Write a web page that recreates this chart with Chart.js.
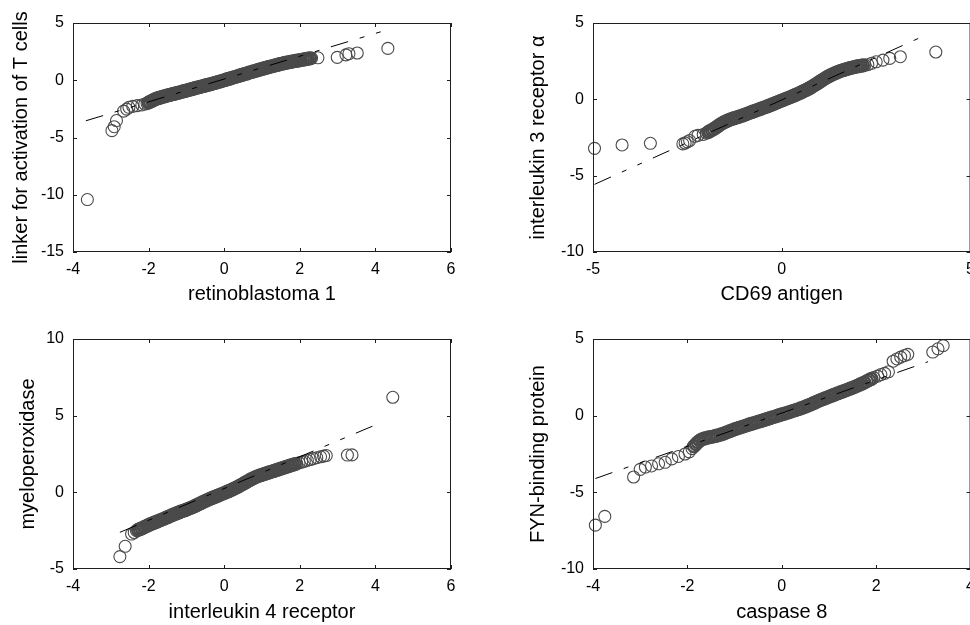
<!DOCTYPE html>
<html>
<head>
<meta charset="utf-8">
<script src="https://cdn.jsdelivr.net/npm/chart.js@4.4.0/dist/chart.umd.min.js"></script>
<style>
  html, body { margin: 0; padding: 0; background: #fff; overflow: hidden; }
  #page { position: relative; width: 970px; height: 625px; overflow: hidden; background: #fff; }
  #page canvas { position: absolute; }
</style>
</head>
<body>
<div id="page">
  <canvas id="c1" width="485" height="312" style="left:0px;top:0px"></canvas>
  <canvas id="c2" width="500" height="312" style="left:485px;top:0px"></canvas>
  <canvas id="c3" width="485" height="313" style="left:0px;top:312px"></canvas>
  <canvas id="c4" width="500" height="313" style="left:485px;top:312px"></canvas>
</div>
<script>
// panel 1: retinoblastoma 1 vs linker for activation of T cells
let rbX = [-3.62, -2.97, -2.91, -2.85, -2.66, -2.58, -2.52, -2.42, -2.3, -2.18, -2.1,
  -2.04, -2.0, -1.96, -1.91, -1.87, -1.83, -1.79, -1.74, -1.7, -1.65, -1.61, -1.56, -1.51, -1.47, -1.42,
  -1.37, -1.33, -1.28, -1.23, -1.19, -1.14, -1.09, -1.05, -1.0, -0.95, -0.91, -0.86, -0.81, -0.77, -0.72,
  -0.67, -0.63, -0.58, -0.53, -0.49, -0.44, -0.39, -0.35, -0.3, -0.25, -0.21, -0.16, -0.11, -0.07, -0.02,
  0.03, 0.07, 0.12, 0.17, 0.21, 0.26, 0.31, 0.35, 0.4, 0.45, 0.49, 0.54, 0.59, 0.63, 0.68, 0.73, 0.77,
  0.82, 0.87, 0.91, 0.96, 1.01, 1.05, 1.1, 1.15, 1.19, 1.24, 1.29, 1.33, 1.38, 1.43, 1.47, 1.52, 1.57,
  1.61, 1.66, 1.71, 1.75, 1.8, 1.85, 1.89, 1.94, 1.99, 2.03, 2.08, 2.13, 2.17, 2.22, 2.27, 2.31,
  2.48, 2.99, 3.22, 3.3, 3.52, 4.33];
let linkY = [-10.42, -4.4, -4.06, -3.52, -2.7, -2.52, -2.36, -2.28, -2.22, -2.16, -2.08,
  -2.02, -1.95, -1.88, -1.8, -1.73, -1.66, -1.61, -1.56, -1.52, -1.47, -1.43, -1.39, -1.34, -1.3, -1.27,
  -1.22, -1.19, -1.15, -1.11, -1.07, -1.03, -0.98, -0.95, -0.9, -0.86, -0.82, -0.78, -0.73, -0.69, -0.65,
  -0.61, -0.57, -0.53, -0.49, -0.45, -0.41, -0.37, -0.33, -0.29, -0.24, -0.2, -0.16, -0.11, -0.07, -0.02,
  0.03, 0.07, 0.12, 0.16, 0.21, 0.26, 0.3, 0.35, 0.4, 0.44, 0.49, 0.54, 0.58, 0.63, 0.68, 0.72, 0.77,
  0.81, 0.86, 0.9, 0.95, 0.99, 1.03, 1.08, 1.12, 1.16, 1.2, 1.24, 1.28, 1.32, 1.36, 1.4, 1.44, 1.47,
  1.51, 1.54, 1.57, 1.6, 1.63, 1.66, 1.69, 1.71, 1.74, 1.77, 1.8, 1.83, 1.85, 1.88, 1.91, 1.93,
  1.96, 2.0, 2.22, 2.32, 2.38, 2.78];
let rbLineX = [-3.66, 4.3];
let rbLineY = [-3.54, 4.39];

// panel 2: CD69 antigen vs interleukin 3 receptor alpha
let cdX = [-4.96, -4.23, -3.48, -2.62, -2.56, -2.5, -2.44, -2.3, -2.22, -2.08, -2.0,
  -1.95, -1.9, -1.85, -1.8, -1.75, -1.7, -1.65, -1.6, -1.55, -1.5, -1.45, -1.4, -1.35, -1.3, -1.25,
  -1.2, -1.15, -1.1, -1.05, -1.0, -0.95, -0.9, -0.85, -0.8, -0.75, -0.7, -0.65, -0.6, -0.55, -0.5,
  -0.45, -0.4, -0.35, -0.3, -0.25, -0.2, -0.15, -0.1, -0.05, 0.0, 0.05, 0.1, 0.15, 0.2, 0.25, 0.3,
  0.35, 0.4, 0.45, 0.5, 0.55, 0.6, 0.65, 0.7, 0.75, 0.8, 0.85, 0.9, 0.95, 1.0, 1.05, 1.1, 1.15, 1.2,
  1.25, 1.3, 1.35, 1.4, 1.45, 1.5, 1.55, 1.6, 1.65, 1.7, 1.75, 1.8, 1.85, 1.9, 1.95, 2.0, 2.05, 2.1,
  2.15, 2.2, 2.28, 2.38, 2.5, 2.68, 2.86, 3.14, 4.08];
let il3Y = [-3.21, -2.99, -2.88, -2.92, -2.86, -2.78, -2.7, -2.42, -2.36, -2.3, -2.22,
  -2.15, -2.08, -2.01, -1.94, -1.86, -1.77, -1.68, -1.6, -1.53, -1.47, -1.41, -1.36, -1.31, -1.27, -1.23,
  -1.19, -1.15, -1.11, -1.07, -1.03, -0.98, -0.93, -0.88, -0.84, -0.79, -0.75, -0.7, -0.66, -0.61, -0.57,
  -0.52, -0.48, -0.43, -0.38, -0.33, -0.28, -0.23, -0.18, -0.13, -0.08, -0.03, 0.02, 0.07, 0.12, 0.17, 0.22,
  0.27, 0.33, 0.38, 0.44, 0.5, 0.56, 0.62, 0.68, 0.75, 0.82, 0.9, 0.98, 1.06, 1.14, 1.22, 1.3, 1.38, 1.45,
  1.52, 1.58, 1.64, 1.7, 1.75, 1.8, 1.85, 1.89, 1.93, 1.97, 2.0, 2.04, 2.07, 2.1, 2.13, 2.16, 2.18, 2.2,
  2.22, 2.24, 2.27, 2.36, 2.46, 2.57, 2.68, 2.79, 3.1];
let cdLineX = [-4.96, 3.85];
let cdLineY = [-5.57, 4.25];

// panel 3: interleukin 4 receptor vs myeloperoxidase
let il4X = [-2.76, -2.62, -2.45, -2.38, -2.32,
  -2.28, -2.23, -2.18, -2.13, -2.08, -2.03, -1.98, -1.93, -1.88, -1.83, -1.78, -1.73, -1.68, -1.63, -1.58,
  -1.53, -1.48, -1.43, -1.38, -1.33, -1.28, -1.23, -1.18, -1.13, -1.08, -1.03, -0.98, -0.93, -0.88, -0.83,
  -0.78, -0.73, -0.68, -0.63, -0.58, -0.53, -0.48, -0.43, -0.38, -0.33, -0.28, -0.23, -0.18, -0.13, -0.08,
  -0.03, 0.02, 0.07, 0.12, 0.17, 0.22, 0.27, 0.32, 0.37, 0.42, 0.47, 0.52, 0.57, 0.62, 0.67, 0.72, 0.77,
  0.82, 0.87, 0.92, 0.97, 1.02, 1.07, 1.12, 1.17, 1.22, 1.27, 1.32, 1.37, 1.42, 1.47, 1.52, 1.57, 1.62,
  1.67, 1.72, 1.77, 1.82, 1.87, 1.92, 1.98, 2.05, 2.12, 2.2, 2.28, 2.36, 2.45, 2.55, 2.63, 2.7,
  3.26, 3.38, 4.46];
let mpoY = [-4.19, -3.52, -2.72, -2.62, -2.5,
  -2.45, -2.4, -2.35, -2.29, -2.23, -2.17, -2.11, -2.06, -2.01, -1.96, -1.91, -1.86, -1.81, -1.76, -1.71,
  -1.65, -1.6, -1.55, -1.49, -1.44, -1.39, -1.34, -1.29, -1.24, -1.2, -1.16, -1.11, -1.06, -1.01, -0.96,
  -0.9, -0.84, -0.78, -0.72, -0.66, -0.6, -0.54, -0.49, -0.43, -0.38, -0.33, -0.28, -0.23, -0.18, -0.13,
  -0.08, -0.03, 0.03, 0.08, 0.13, 0.19, 0.25, 0.31, 0.37, 0.44, 0.51, 0.58, 0.65, 0.72, 0.79, 0.86, 0.92,
  0.98, 1.03, 1.08, 1.12, 1.16, 1.2, 1.24, 1.28, 1.32, 1.36, 1.4, 1.44, 1.48, 1.52, 1.56, 1.6, 1.64,
  1.68, 1.72, 1.76, 1.8, 1.84, 1.88, 1.92, 1.97, 2.02, 2.08, 2.14, 2.2, 2.26, 2.32, 2.36, 2.4,
  2.43, 2.44, 6.2];
let il4LineX = [-2.76, 4.17];
let il4LineY = [-2.61, 4.57];

// panel 4: caspase 8 vs FYN-binding protein
let casX = [-3.95, -3.75, -3.14, -3.0, -2.89, -2.76, -2.61, -2.47, -2.33, -2.19, -2.05, -1.96,
  -1.9, -1.86, -1.82, -1.78, -1.74, -1.7, -1.65, -1.6, -1.55, -1.5, -1.45, -1.4, -1.35, -1.3, -1.25,
  -1.2, -1.15, -1.1, -1.05, -1.0, -0.95, -0.9, -0.85, -0.8, -0.75, -0.7, -0.65, -0.6, -0.55, -0.5,
  -0.45, -0.4, -0.35, -0.3, -0.25, -0.2, -0.15, -0.1, -0.05, 0.0, 0.05, 0.1, 0.15, 0.2, 0.25, 0.3,
  0.35, 0.4, 0.45, 0.5, 0.55, 0.6, 0.65, 0.7, 0.75, 0.8, 0.85, 0.9, 0.95, 1.0, 1.05, 1.1, 1.15, 1.2,
  1.25, 1.3, 1.35, 1.4, 1.45, 1.5, 1.55, 1.6, 1.65, 1.7, 1.75, 1.8, 1.85, 1.9, 1.95,
  2.03, 2.1, 2.18, 2.26, 2.36, 2.44, 2.52, 2.6, 2.67, 3.2, 3.31, 3.42];
let fynY = [-7.14, -6.57, -4.0, -3.5, -3.35, -3.28, -3.14, -3.04, -2.82, -2.66, -2.5, -2.36,
  -2.15, -2.0, -1.86, -1.74, -1.64, -1.56, -1.5, -1.46, -1.42, -1.39, -1.36, -1.32, -1.28, -1.24, -1.19,
  -1.13, -1.07, -1.01, -0.95, -0.89, -0.84, -0.79, -0.74, -0.69, -0.64, -0.59, -0.54, -0.5, -0.45, -0.4,
  -0.36, -0.31, -0.26, -0.21, -0.16, -0.11, -0.07, -0.02, 0.03, 0.08, 0.12, 0.17, 0.22, 0.27, 0.32, 0.37,
  0.42, 0.47, 0.53, 0.59, 0.65, 0.71, 0.78, 0.85, 0.92, 0.99, 1.05, 1.11, 1.17, 1.23, 1.29, 1.35, 1.41, 1.47,
  1.53, 1.58, 1.64, 1.7, 1.76, 1.82, 1.88, 1.95, 2.02, 2.09, 2.16, 2.24, 2.32, 2.4, 2.48,
  2.58, 2.68, 2.76, 2.86, 3.55, 3.7, 3.82, 3.92, 4.0, 4.15, 4.36, 4.57];
let casLineX = [-3.95, 3.1];
let casLineY = [-4.1, 3.52];

// tick labels
let ticksX1 = [-4, -2, 0, 2, 4, 6];
let ticksY1 = [-15, -10, -5, 0, 5];
let ticksX2 = [-5, 0, 5];
let ticksY2 = [-10, -5, 0, 5];
let ticksX3 = [-4, -2, 0, 2, 4, 6];
let ticksY3 = [-5, 0, 5, 10];
let ticksX4 = [-4, -2, 0, 2, 4];
let ticksY4 = [-10, -5, 0, 5];

const FONT = "'Liberation Sans', Arial, Helvetica, sans-serif";

// matlab style box with inward ticks on every side
const boxPlugin = {
  id: "box",
  afterDraw(chart) {
    const ctx = chart.ctx;
    const a = chart.chartArea;
    const sx = chart.scales.x;
    const sy = chart.scales.y;
    ctx.save();
    ctx.strokeStyle = "#1e1e1e";
    ctx.lineWidth = 1;
    ctx.strokeRect(a.left + 0.5, a.top + 0.5, a.right - a.left - 1, a.bottom - a.top - 1);
    ctx.beginPath();
    sx.ticks.forEach(t => {
      let px = Math.round(sx.getPixelForValue(t.value)) + 0.5;
      ctx.moveTo(px, a.bottom);
      ctx.lineTo(px, a.bottom - 4);
      ctx.moveTo(px, a.top);
      ctx.lineTo(px, a.top + 4);
    });
    sy.ticks.forEach(t => {
      let py = Math.round(sy.getPixelForValue(t.value)) + 0.5;
      ctx.moveTo(a.left, py);
      ctx.lineTo(a.left + 4, py);
      ctx.moveTo(a.right, py);
      ctx.lineTo(a.right - 4, py);
    });
    ctx.stroke();
    ctx.restore();
  }
};

function pairs(xs, ys) {
  return xs.map((v, i) => ({ x: v, y: ys[i] }));
}

// rings packed tightly along the band get a heavier outline so the band reads dark
function ringWidth(xs) {
  return c => {
    let i = c.dataIndex;
    let gapL = i > 0 ? xs[i] - xs[i - 1] : 9;
    let gapR = i < xs.length - 1 ? xs[i + 1] - xs[i] : 9;
    return Math.max(gapL, gapR) < 0.055 ? 2.2 : 1.1;
  };
}

function makePanel(id, p) {
  new Chart(document.getElementById(id), {
    type: "scatter",
    data: {
      datasets: [
        {
          data: pairs(p.lineX, p.lineY),
          showLine: true,
          borderColor: "#000",
          borderWidth: 1,
          borderDash: [18, 12, 5, 12, 5, 12],
          pointRadius: 0,
          clip: false,
        },
        {
          data: pairs(p.x, p.y),
          pointRadius: 6,
          pointBorderWidth: ringWidth(p.x),
          pointBorderColor: "#4a4a4a",
          pointBackgroundColor: "rgba(0,0,0,0)",
          clip: false,
        },
      ],
    },
    options: {
      responsive: false,
      animation: false,
      events: [],
      layout: { padding: { left: 0, top: p.top, right: p.right, bottom: 0 } },
      plugins: { legend: { display: false }, tooltip: { enabled: false } },
      scales: {
        x: {
          type: "linear",
          min: p.xTicks[0],
          max: p.xTicks[p.xTicks.length - 1],
          afterBuildTicks: s => { s.ticks = p.xTicks.map(v => ({ value: v })); },
          afterFit: s => { s.height = p.h; },
          grid: { display: false, drawTicks: false },
          border: { display: false },
          ticks: {
            autoSkip: false, maxRotation: 0, padding: 10, color: "#000",
            font: { family: FONT, size: 16, lineHeight: 1 },
            callback: v => String(v),
          },
          title: {
            display: true, text: p.xLabel, color: "#000",
            font: { family: FONT, size: 20, lineHeight: 1 },
            padding: { top: 0, bottom: p.xTitlePad },
          },
        },
        y: {
          type: "linear",
          min: p.yTicks[0],
          max: p.yTicks[p.yTicks.length - 1],
          afterBuildTicks: s => { s.ticks = p.yTicks.map(v => ({ value: v })); },
          afterFit: s => { s.width = p.w; },
          grid: { display: false, drawTicks: false },
          border: { display: false },
          ticks: {
            autoSkip: false, padding: 9, color: "#000",
            font: { family: FONT, size: 16, lineHeight: 1 },
            callback: v => String(v),
          },
          title: {
            display: true, text: p.yLabel, color: "#000",
            font: { family: FONT, size: 20, lineHeight: 1 },
            padding: { top: p.yTitlePad, bottom: 0 },
          },
        },
      },
    },
    plugins: [boxPlugin],
  });
}

makePanel("c1", {
  x: rbX, y: linkY, lineX: rbLineX, lineY: rbLineY, xTicks: ticksX1, yTicks: ticksY1,
  xLabel: "retinoblastoma 1", yLabel: "linker for activation of T cells",
  w: 73, h: 60, top: 23, right: 34, xTitlePad: 7.5, yTitlePad: 11,
});
makePanel("c2", {
  x: cdX, y: il3Y, lineX: cdLineX, lineY: cdLineY, xTicks: ticksX2, yTicks: ticksY2,
  xLabel: "CD69 antigen", yLabel: "interleukin 3 receptor α",
  w: 108, h: 60, top: 23, right: 14, xTitlePad: 7.5, yTitlePad: 43,
});
makePanel("c3", {
  x: il4X, y: mpoY, lineX: il4LineX, lineY: il4LineY, xTicks: ticksX3, yTicks: ticksY3,
  xLabel: "interleukin 4 receptor", yLabel: "myeloperoxidase",
  w: 73, h: 56, top: 27, right: 34, xTitlePad: 2.5, yTitlePad: 18,
});
makePanel("c4", {
  x: casX, y: fynY, lineX: casLineX, lineY: casLineY, xTicks: ticksX4, yTicks: ticksY4,
  xLabel: "caspase 8", yLabel: "FYN-binding protein",
  w: 108, h: 56, top: 27, right: 14, xTitlePad: 2.5, yTitlePad: 43,
});
</script>
</body>
</html>
